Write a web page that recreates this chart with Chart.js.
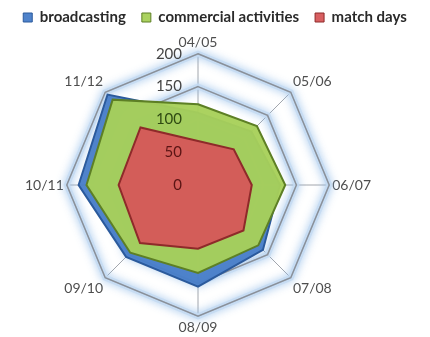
<!DOCTYPE html>
<html>
<head>
<meta charset="utf-8">
<script src="https://cdn.jsdelivr.net/npm/chart.js@4/dist/chart.umd.min.js"></script>
<style>
  html, body { margin: 0; padding: 0; background: #fff; }
  #wrap { width: 430px; height: 337px; }
</style>
</head>
<body>
<div id="wrap"><canvas id="revenueChart"></canvas></div>
<script>
// seasons around the radar
let seasons = ['04/05', '05/06', '06/07', '07/08', '08/09', '09/10', '10/11', '11/12'];
// revenue per season
let broadcasting = [110, 115, 125, 140, 155, 155, 182, 195];
let commercial = [123, 127, 133, 130, 134, 146, 170, 184];
let matchDays = [67, 77, 82, 98, 97, 125, 121, 124];
// tick labels on the vertical axis
let tickValues = [0, 50, 100, 150, 200];
let tickColors = ['#5a1414', '#5a1414', '#2f4a12', '#444', '#444'];

//Polygon path for one ring of the scale
function ringPath(ctx, scale, v) {
    ctx.beginPath();
    seasons.forEach(function (s, i) {
        let p = scale.getPointPositionForValue(i, v);
        if (i === 0) ctx.moveTo(p.x, p.y); else ctx.lineTo(p.x, p.y);
    });
    ctx.closePath();
}

//Soft blue glow behind the ring lines
let ringGlow = {
    id: 'ringGlow',
    beforeDatasetsDraw: function (chart) {
        let scale = chart.scales.r;
        let ctx = chart.ctx;
        ctx.save();
        ctx.shadowColor = 'rgba(140,185,232,0.95)';
        ctx.shadowBlur = 8;
        ctx.strokeStyle = 'rgba(196,218,242,0.85)';
        ctx.lineWidth = 6;
        [150, 200].forEach(function (v) {
            ringPath(ctx, scale, v);
            ctx.stroke();
        });
        ctx.restore();
        // redraw the ring lines over the glow
        ctx.save();
        ctx.strokeStyle = '#8a9099';
        ctx.lineWidth = 1.5;
        [150, 200].forEach(function (v) {
            ringPath(ctx, scale, v);
            ctx.stroke();
        });
        ctx.restore();
    }
};

//Tick labels sit left of the vertical axis
let tickText = {
    id: 'tickText',
    afterDatasetsDraw: function (chart) {
        let scale = chart.scales.r;
        let ctx = chart.ctx;
        ctx.save();
        ctx.font = '15px Lato';
        ctx.textAlign = 'right';
        ctx.textBaseline = 'middle';
        tickValues.forEach(function (v, i) {
            ctx.fillStyle = tickColors[i];
            ctx.fillText(String(v), scale.xCenter - 16, scale.yCenter - scale.getDistanceFromCenterForValue(v));
        });
        ctx.restore();
    }
};

let ctx = document.getElementById('revenueChart').getContext('2d');
let revenueChart = new Chart(ctx, {
    type: 'radar',
    data: {
        labels: seasons,
        datasets: [{
            label: 'broadcasting',
            data: broadcasting,
            backgroundColor: 'rgba(72,126,201,0.96)',
            borderColor: '#2b5a9c',
            borderWidth: 2,
            pointRadius: 0,
            fill: true,
            order: 3
        }, {
            label: 'commercial activities',
            data: commercial,
            backgroundColor: 'rgba(168,208,90,0.96)',
            borderColor: '#5d7f25',
            borderWidth: 2,
            pointRadius: 0,
            fill: true,
            order: 2
        }, {
            label: 'match days',
            data: matchDays,
            backgroundColor: 'rgba(214,86,88,0.95)',
            borderColor: '#8e2a2a',
            borderWidth: 2,
            pointRadius: 0,
            fill: true,
            order: 1
        }]
    },
    options: {
        responsive: true,
        maintainAspectRatio: false,
        animation: false,
        layout: { padding: { left: 0, right: 0, top: -6, bottom: -2 } },
        plugins: {
            tooltip: { enabled: false },
            legend: {
                position: 'top',
                labels: {
                    boxWidth: 9,
                    boxHeight: 9,
                    padding: 16,
                    color: '#2a2a2a',
                    font: { family: 'Lato', size: 15, weight: 'bold' },
                    sort: function (a, b) { return a.datasetIndex - b.datasetIndex; },
                    generateLabels: function (chart) {
                        let items = Chart.defaults.plugins.legend.labels.generateLabels(chart);
                        items.forEach(function (item) { item.lineWidth = 1; });
                        return items;
                    }
                }
            }
        },
        scales: {
            r: {
                min: 0,
                max: 200,
                ticks: { stepSize: 50, display: false },
                grid: { color: '#8a9099', lineWidth: 1.5 },
                angleLines: { color: '#a2a6ad', lineWidth: 1 },
                pointLabels: {
                    padding: 3,
                    color: '#4e4e4e',
                    font: { family: 'Lato', size: 14 }
                },
                // the radar sits a little left of the middle
                afterFit: function (scale) {
                    let dx = -17;
                    scale.xCenter += dx;
                    (scale._pointLabelItems || []).forEach(function (item) {
                        item.x += dx;
                        item.left += dx;
                        item.right += dx;
                    });
                }
            }
        }
    },
    plugins: [ringGlow, tickText]
});
</script>
</body>
</html>
